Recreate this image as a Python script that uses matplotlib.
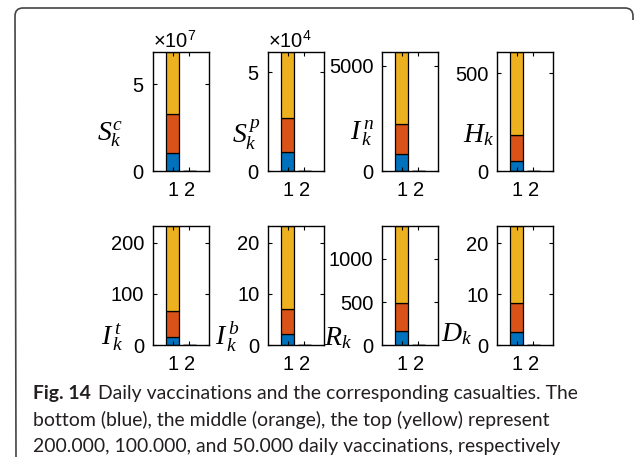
import numpy as np
import matplotlib
matplotlib.use('Agg')
import matplotlib.pyplot as plt
from matplotlib.path import Path
from matplotlib.patches import PathPatch
from matplotlib.ticker import ScalarFormatter

plt.rcParams['font.family'] = 'Liberation Sans'
plt.rcParams['mathtext.fontset'] = 'custom'
plt.rcParams['mathtext.rm'] = 'Liberation Sans'
plt.rcParams['mathtext.it'] = 'Liberation Serif:italic'
plt.rcParams['mathtext.bf'] = 'Liberation Sans:bold'

# bar groups on the x axis
groups = [1, 2]

# panel labels (y labels) and y ticks
panel_labels = [r'$S_k^c$', r'$S_k^{\,p}$', r'$I_{\,k}^{\,n}$', r'$H_k$',
                r'$I_{\,k}^{\,t}$', r'$I_{\,k}^{\,b}$', r'$R_k$', r'$D_k$']
panel_yticks = [[0, 5e7], [0, 5e4], [0, 5000], [0, 500],
                [0, 100, 200], [0, 10, 20], [0, 500, 1000], [0, 10, 20]]

# stacked segments for group 1 (200.000 / 100.000 / 50.000 daily vaccinations)
blue_vals = [1.06e7, 0.98e4, 795, 53, 15.6, 2.2, 162, 2.55]
orange_vals = [2.21e7, 1.72e4, 1427, 130, 51.3, 4.95, 324, 5.65]
yellow_vals = [3.58e7, 3.32e4, 3428, 425, 165.6, 16.1, 894, 15.2]
# group 2 is practically zero everywhere
blue_vals2 = [0, 0, 0, 0, 0, 0, 0, 0]
orange_vals2 = [0, 0, 0, 0, 0, 0, 0, 0]
yellow_vals2 = [0, 0, 0, 0, 0, 0, 0, 0]

colors = ['#0072BD', '#D95319', '#EDB120']

# y label placement (axes coords) tuned per panel
label_pos = [(-0.75, 0.31), (-0.38, 0.30), (-0.35, 0.32), (-0.32, 0.30),
             (-0.72, 0.07), (-0.72, 0.07), (-0.77, 0.06), (-0.71, 0.09)]

W, H = 637, 465
fig = plt.figure(figsize=(W / 100, H / 100), dpi=100)

lefts = [152.7, 267.7, 381.7, 496.7]
rows = [(52.3, 171.0), (226.0, 345.3)]
ax_w = 56.5
tick_size = 14.5

for i in range(8):
    r, c = divmod(i, 4)
    top, bot = rows[r]
    ax = fig.add_axes([lefts[c] / W, (H - bot) / H, ax_w / W, (bot - top) / H])

    b = np.array([blue_vals[i], blue_vals2[i]])
    o = np.array([orange_vals[i], orange_vals2[i]])
    y = np.array([yellow_vals[i], yellow_vals2[i]])
    ax.bar(groups, b, width=0.8, color=colors[0], edgecolor='black', linewidth=0.9)
    ax.bar(groups, o, width=0.8, bottom=b, color=colors[1], edgecolor='black', linewidth=0.9)
    ax.bar(groups, y, width=0.8, bottom=b + o, color=colors[2], edgecolor='black', linewidth=0.9)

    ax.set_xlim(-0.2, 3.2)
    ax.set_ylim(0, (b + o + y).max())
    ax.set_xticks(groups)
    ax.set_yticks(panel_yticks[i])
    if i < 2:
        fmt = ScalarFormatter(useMathText=True)
        fmt.set_powerlimits((0, 0))
        ax.yaxis.set_major_formatter(fmt)
        ax.yaxis.get_offset_text().set_fontsize(tick_size)
    ax.tick_params(direction='in', length=3, width=0.8, top=True, right=True,
                   labelsize=tick_size, pad=6)
    ax.tick_params(axis='x', pad=7)
    for s in ax.spines.values():
        s.set_linewidth(1.0)

    ax.set_ylabel(panel_labels[i], rotation=0, fontsize=20, ha='center', va='center')
    ax.yaxis.set_label_coords(*label_pos[i])

# rounded frame (only top and left edges visible)
pts = [(16, 457), (15, 16), (15, 8), (23, 8), (625, 8), (633, 8), (633, 16), (633, 20)]
codes = [Path.MOVETO, Path.LINETO, Path.CURVE3, Path.CURVE3, Path.LINETO,
         Path.CURVE3, Path.CURVE3, Path.LINETO]
verts = [(x / W, (H - yy) / H) for x, yy in pts]
fig.patches.append(PathPatch(Path(verts, codes), transform=fig.transFigure,
                             fill=False, edgecolor='#444444', linewidth=1.2))

# caption, size fitted so the first line ends where the reference's does
cap_font = 'Lato'
cap_color = '#231F20'
line1 = 'Daily vaccinations and the corresponding casualties. The'
line2 = 'bottom (blue), the middle (orange), the top (yellow) represent'
line3 = '200.000, 100.000, and 50.000 daily vaccinations, respectively'

def place_caption(size):
    t0 = fig.text(33 / W, (H - 393) / H, 'Fig. 14', fontsize=size, fontweight='bold',
                  family=cap_font, color=cap_color, va='center')
    fig.canvas.draw()
    bb = t0.get_window_extent()
    t1 = fig.text((bb.x1 + 7) / W, (H - 393) / H, line1, fontsize=size,
                  family=cap_font, color=cap_color, va='center')
    t2 = fig.text(33 / W, (H - 420) / H, line2, fontsize=size,
                  family=cap_font, color=cap_color, va='center')
    t3 = fig.text(33 / W, (H - 446) / H, line3, fontsize=size,
                  family=cap_font, color=cap_color, va='center')
    fig.canvas.draw()
    return [t0, t1, t2, t3]

size = 12.5
texts = place_caption(size)
end = texts[1].get_window_extent().x1
for t in texts:
    t.remove()
size = size * (581 - 33) / (end - 33)
place_caption(size)

fig.savefig('out.png', dpi=100)
